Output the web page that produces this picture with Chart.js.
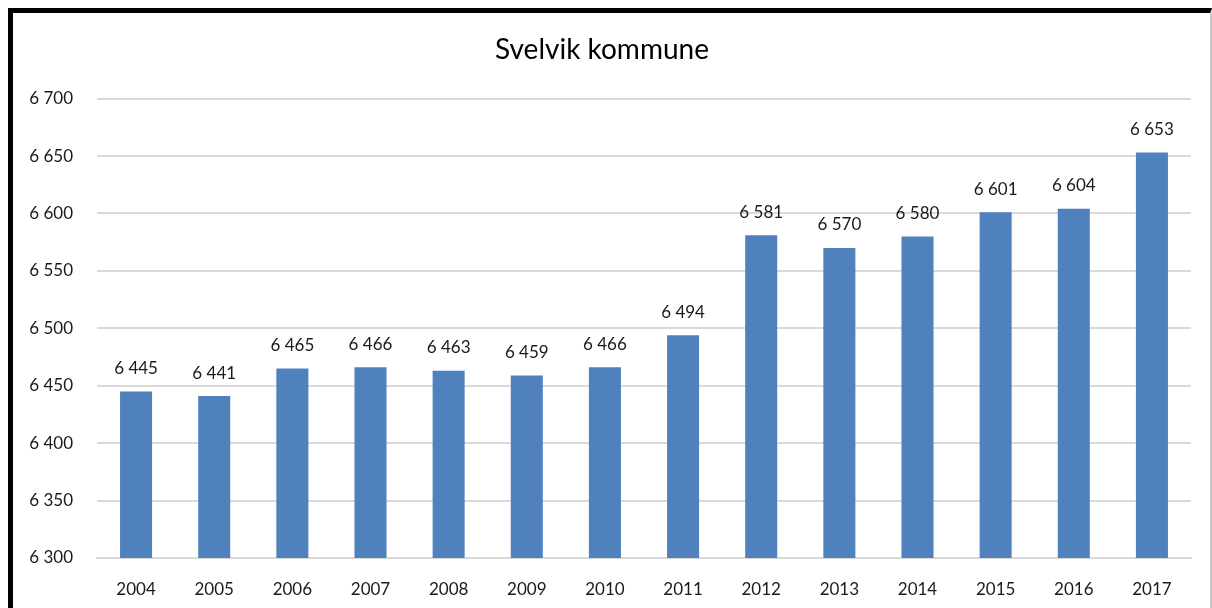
<!DOCTYPE html>
<html>
<head>
<meta charset="utf-8">
<script src="https://cdn.jsdelivr.net/npm/chart.js@4"></script>
<style>
  html, body { margin: 0; padding: 0; background: #fff; }
  body { width: 1212px; height: 608px; overflow: hidden; position: relative; }
  #frame {
    position: absolute; left: 8px; top: 8px; width: 1197px; height: 600px;
    border-top: 5px solid #000; border-left: 5px solid #000; border-right: 2px solid #c8c8c8;
  }
  #chartBox { position: absolute; left: 0; top: 0; width: 1197px; height: 595px; }
</style>
</head>
<body>
<div id="frame"><div id="chartBox"><canvas id="chart"></canvas></div></div>
<script>
// Chart data
const years = ['2004', '2005', '2006', '2007', '2008', '2009', '2010', '2011', '2012', '2013', '2014', '2015', '2016', '2017'];
const population = [6445, 6441, 6465, 6466, 6463, 6459, 6466, 6494, 6581, 6570, 6580, 6601, 6604, 6653];
const yMin = 6300;
const yMax = 6700;
const yStep = 50;

const fontFamily = 'Lato, "Open Sans", sans-serif';

function formatNumber(v) {
    return String(v).replace(/\B(?=(\d{3})+(?!\d))/g, ' ');
}

// draws value labels above each bar
const valueLabels = {
    id: 'valueLabels',
    afterDatasetsDraw(chart) {
        const ctx = chart.ctx;
        const meta = chart.getDatasetMeta(0);
        ctx.save();
        ctx.font = '17px ' + fontFamily;
        ctx.fillStyle = '#1a1a1a';
        ctx.textAlign = 'center';
        ctx.textBaseline = 'middle';
        meta.data.forEach((bar, i) => {
            ctx.fillText(formatNumber(population[i]), bar.x, bar.y - 23);
        });
        ctx.restore();
    }
};

new Chart(document.getElementById('chart'), {
    type: 'bar',
    data: {
        labels: years,
        datasets: [{
            data: population,
            backgroundColor: '#4F81BD',
            barPercentage: 0.41,
            categoryPercentage: 1
        }]
    },
    options: {
        responsive: true,
        maintainAspectRatio: false,
        animation: false,
        layout: { padding: { left: 0, right: 19, top: 0, bottom: 0 } },
        plugins: {
            legend: { display: false },
            tooltip: { enabled: false },
            title: {
                display: true,
                text: 'Svelvik kommune',
                color: '#000',
                font: { family: fontFamily, size: 28, weight: 'normal' },
                padding: { top: 20, bottom: 32 }
            }
        },
        scales: {
            x: {
                grid: { display: false },
                border: { color: '#d9d9d9', width: 2 },
                ticks: {
                    color: '#1a1a1a',
                    font: { family: fontFamily, size: 17 },
                    padding: 13,
                    maxRotation: 0
                },
                afterFit(scale) { scale.height = 50; }
            },
            y: {
                min: yMin,
                max: yMax,
                border: { display: false },
                grid: { color: '#d9d9d9', lineWidth: 2, drawTicks: false },
                ticks: {
                    stepSize: yStep,
                    color: '#1a1a1a',
                    font: { family: fontFamily, size: 17 },
                    padding: 24,
                    callback: v => formatNumber(v)
                },
                afterFit(scale) { scale.width = 84; }
            }
        }
    },
    plugins: [valueLabels]
});
</script>
</body>
</html>
